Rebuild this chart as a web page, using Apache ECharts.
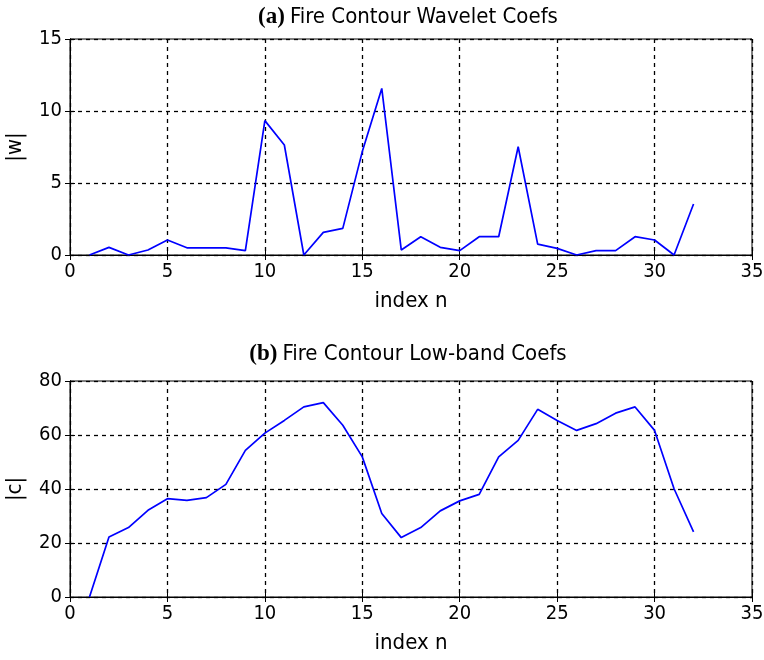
<!DOCTYPE html>
<html><head><meta charset="utf-8">
<script src="https://cdn.jsdelivr.net/npm/echarts@6/dist/echarts.min.js"></script>
<style>html,body{margin:0;padding:0;background:#fff}#c{width:764px;height:660px}</style>
</head><body><div id="c"></div>
<script>
const indexN = [1,2,3,4,5,6,7,8,9,10,11,12,13,14,15,16,17,18,19,20,21,22,23,24,25,26,27,28,29,30,31,32];
const waveletCoefs = [0,0.53,0,0.35,1.04,0.5,0.5,0.5,0.3,9.33,7.64,0,1.57,1.85,7.18,11.57,0.35,1.27,0.53,0.3,1.27,1.27,7.52,0.76,0.46,0,0.3,0.3,1.27,1.04,0,3.54];
const lowbandCoefs = [0,22.2,25.7,32.1,36.4,35.8,36.8,41.7,54.3,60.7,65.4,70.4,72.0,63.6,51.9,30.9,22.0,25.7,31.9,35.6,38.0,51.9,58.0,69.5,65.4,61.7,64.2,68.1,70.4,61.7,40.1,24.1];
const xTicks = [0,5,10,15,20,25,30,35];
const yTicksA = [0,5,10,15];
const yTicksB = [0,20,40,60,80];

const FONT = '"Liberation Sans Narrow","DejaVu Sans Condensed","Liberation Sans",Arial,sans-serif';
const chart = echarts.init(document.getElementById('c'));
const grids = [
  {left:70, top:39, width:682, height:216, show:true, borderColor:'#000', borderWidth:1, containLabel:false, outerBoundsMode:'none'},
  {left:70, top:381, width:682, height:216, show:true, borderColor:'#000', borderWidth:1, containLabel:false, outerBoundsMode:'none'}
];
function xAx(gi){
  return [{
    type:'value', gridIndex:gi, min:xTicks[0], max:xTicks[xTicks.length-1], interval:5,
    name:'index n', nameLocation:'middle', nameGap:35,
    nameTextStyle:{fontFamily:FONT, fontSize:22, color:'#000'},
    axisLine:{show:true, lineStyle:{color:'#000'}},
    axisTick:{show:true, inside:true, length:5, lineStyle:{color:'#000'}},
    axisLabel:{fontFamily:FONT, fontSize:20, color:'#000', margin:7},
    splitLine:{show:true, lineStyle:{color:'#000', type:[4,4], width:1.3}}
  },{
    type:'value', gridIndex:gi, position:'top', min:xTicks[0], max:xTicks[xTicks.length-1], interval:5,
    axisLine:{show:true, lineStyle:{color:'#000'}},
    axisTick:{show:true, inside:true, length:5, lineStyle:{color:'#000'}},
    axisLabel:{show:false}, splitLine:{show:false}
  }];
}
function yAx(gi, ticks, name){
  const iv = ticks[1]-ticks[0];
  return [{
    type:'value', gridIndex:gi, min:ticks[0], max:ticks[ticks.length-1], interval:iv,
    name:name, nameLocation:'middle', nameGap:44, nameRotate:90,
    nameTextStyle:{fontFamily:FONT, fontSize:22, color:'#000'},
    axisLine:{show:true, lineStyle:{color:'#000'}},
    axisTick:{show:true, inside:true, length:5, lineStyle:{color:'#000'}},
    axisLabel:{fontFamily:FONT, fontSize:20, color:'#000', margin:8},
    splitLine:{show:true, lineStyle:{color:'#000', type:[4,4], width:1.3}}
  },{
    type:'value', gridIndex:gi, position:'right', min:ticks[0], max:ticks[ticks.length-1], interval:iv,
    axisLine:{show:true, lineStyle:{color:'#000'}},
    axisTick:{show:true, inside:true, length:5, lineStyle:{color:'#000'}},
    axisLabel:{show:false}, splitLine:{show:false}
  }];
}
const titleRich = {
  b:{fontFamily:'"Liberation Serif","Times New Roman",serif', fontWeight:'bold', fontSize:23, color:'#000'},
  t:{fontFamily:FONT, fontWeight:'normal', fontSize:22, color:'#000'}
};
chart.setOption({
  animation:false,
  title:[
    {text:'{b|(a)} {t|Fire Contour Wavelet Coefs}', left:403, textAlign:'center', top:1, textStyle:{fontWeight:'normal', rich:titleRich}},
    {text:'{b|(b)} {t|Fire Contour Low-band Coefs}', left:403, textAlign:'center', top:338, textStyle:{fontWeight:'normal', rich:titleRich}}
  ],
  grid:grids,
  xAxis:[...xAx(0), ...xAx(1)],
  yAxis:[...yAx(0, yTicksA, '|w|'), ...yAx(1, yTicksB, '|c|')],
  series:[
    {type:'line', xAxisIndex:0, yAxisIndex:0, showSymbol:false, symbol:'none',
     lineStyle:{color:'#0000ff', width:1.7}, data:indexN.map((n,i)=>[n, waveletCoefs[i]])},
    {type:'line', xAxisIndex:2, yAxisIndex:2, showSymbol:false, symbol:'none',
     lineStyle:{color:'#0000ff', width:1.7}, data:indexN.map((n,i)=>[n, lowbandCoefs[i]])}
  ]
});
</script></body></html>
